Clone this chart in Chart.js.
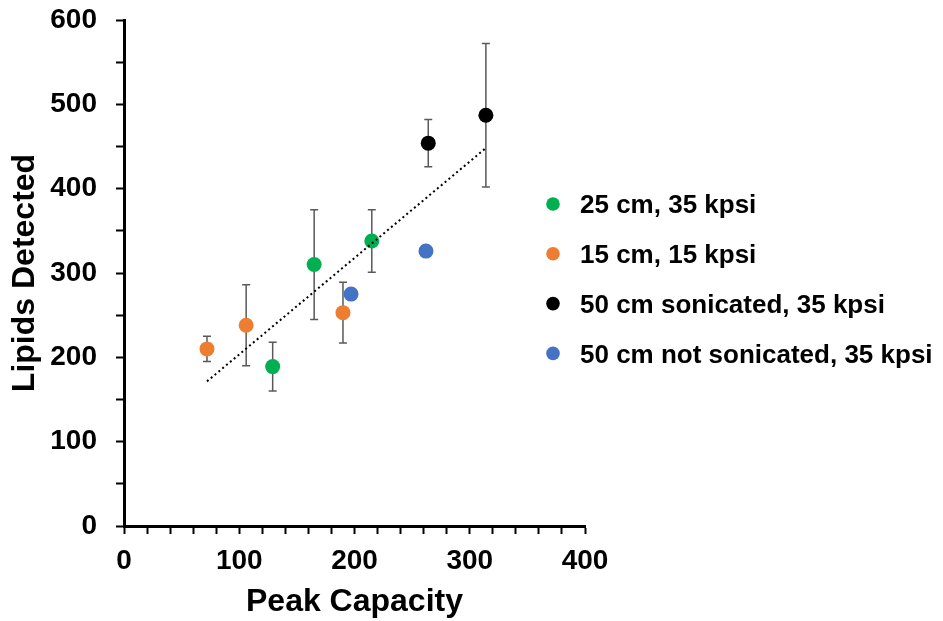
<!DOCTYPE html>
<html>
<head>
<meta charset="utf-8">
<script src="https://cdn.jsdelivr.net/npm/chart.js@4.4.0/dist/chart.umd.min.js"></script>
<style>
    html, body { margin: 0; padding: 0; background: #fff; }
    #wrap { width: 943px; height: 621px; }
</style>
</head>
<body>
<div id="wrap"><canvas id="myChart"></canvas></div>
<script>
// series, in legend order
const seriesLabels = ['25 cm, 35 kpsi', '15 cm, 15 kpsi', '50 cm sonicated, 35 kpsi', '50 cm not sonicated, 35 kpsi'];
const seriesColors = ['#00B050', '#ED7D31', '#000000', '#4472C4'];
const peakCapacity = [[129, 165, 215], [72, 106, 190], [264, 314], [197, 262]];
const lipidsDetected = [[189, 310, 338], [210, 238, 253], [454, 487], [275, 326]];
const errorSize = [[29, 65, 37], [15, 48, 36], [28, 85], [0, 0]];

const xTicks = [0, 100, 200, 300, 400];
const yTicks = [0, 100, 200, 300, 400, 500, 600];

const fontFamily = "'Liberation Sans', Arial, sans-serif";
Chart.defaults.font.family = fontFamily;
Chart.defaults.color = '#000';

// linear trend over every point
function trendLine() {
    let xs = [], ys = [];
    peakCapacity.forEach((arr, i) => arr.forEach((x, j) => { xs.push(x); ys.push(lipidsDetected[i][j]); }));
    const n = xs.length;
    const mx = xs.reduce((a, b) => a + b, 0) / n;
    const my = ys.reduce((a, b) => a + b, 0) / n;
    let sxy = 0, sxx = 0;
    xs.forEach((x, k) => { sxy += (x - mx) * (ys[k] - my); sxx += (x - mx) * (x - mx); });
    const slope = sxy / sxx;
    const icpt = my - slope * mx;
    const x0 = Math.min(...xs), x1 = Math.max(...xs);
    return [{ x: x0, y: icpt + slope * x0 }, { x: x1, y: icpt + slope * x1 }];
}

const datasets = seriesLabels.map((label, i) => ({
    type: 'scatter',
    label: label,
    data: peakCapacity[i].map((x, j) => ({ x: x, y: lipidsDetected[i][j] })),
    errors: errorSize[i],
    backgroundColor: seriesColors[i],
    borderColor: seriesColors[i],
    pointRadius: 7.5,
    pointBorderWidth: 0,
    pointHoverRadius: 7.5,
}));

datasets.push({
    type: 'line',
    label: 'trend',
    data: trendLine(),
    borderColor: '#000',
    borderWidth: 2,
    borderDash: [2, 3],
    pointRadius: 0,
    fill: false,
    order: -1,
});

const errorBars = {
    id: 'errorBars',
    beforeDatasetsDraw(chart) {
        const ctx = chart.ctx;
        const xs = chart.scales.x, ys = chart.scales.y;
        ctx.save();
        ctx.strokeStyle = '#595959';
        ctx.lineWidth = 1.5;
        chart.data.datasets.forEach(ds => {
            if (!ds.errors) return;
            ds.data.forEach((p, j) => {
                const e = ds.errors[j];
                if (!e) return;
                const px = xs.getPixelForValue(p.x);
                const top = ys.getPixelForValue(p.y + e);
                const bot = ys.getPixelForValue(p.y - e);
                ctx.beginPath();
                ctx.moveTo(px, top); ctx.lineTo(px, bot);
                ctx.moveTo(px - 4, top); ctx.lineTo(px + 4, top);
                ctx.moveTo(px - 4, bot); ctx.lineTo(px + 4, bot);
                ctx.stroke();
            });
        });
        ctx.restore();
    }
};

const sideLegend = {
    id: 'sideLegend',
    afterDraw(chart) {
        const ctx = chart.ctx;
        ctx.save();
        ctx.font = 'bold 26px ' + fontFamily;
        ctx.textBaseline = 'alphabetic';
        seriesLabels.forEach((label, i) => {
            const y = 204 + i * 49.8;
            ctx.fillStyle = seriesColors[i];
            ctx.beginPath();
            ctx.arc(553, y, 6.8, 0, Math.PI * 2);
            ctx.fill();
            ctx.fillStyle = '#000';
            ctx.fillText(label, 580, y + 9.3);
        });
        ctx.restore();
    }
};

const tickFont = { size: 28, weight: 'bold' };
const titleFont = { size: 32, weight: 'bold' };

new Chart(document.getElementById('myChart'), {
    data: { datasets: datasets },
    plugins: [errorBars, sideLegend],
    options: {
        responsive: true,
        maintainAspectRatio: false,
        animation: false,
        layout: { padding: { top: 20, right: 358, bottom: 0, left: 0 } },
        plugins: {
            legend: { display: false },
            tooltip: { enabled: false },
        },
        scales: {
            x: {
                type: 'linear',
                min: xTicks[0],
                max: xTicks[xTicks.length - 1],
                border: { color: '#000', width: 3 },
                grid: { drawOnChartArea: false, color: '#000', tickLength: 8, tickWidth: 2 },
                ticks: {
                    stepSize: 20,
                    autoSkip: false,
                    maxRotation: 0,
                    padding: 10,
                    font: tickFont,
                    callback: v => xTicks.includes(v) ? v : '',
                },
                title: { display: true, text: 'Peak Capacity', font: titleFont, padding: { top: 0, bottom: 0 } },
                afterFit: s => { s.height = 95; },
            },
            y: {
                type: 'linear',
                min: yTicks[0],
                max: yTicks[yTicks.length - 1],
                border: { color: '#000', width: 3 },
                grid: { drawOnChartArea: false, color: '#000', tickLength: 8, tickWidth: 2 },
                ticks: {
                    stepSize: 50,
                    autoSkip: false,
                    padding: 19,
                    font: tickFont,
                    callback: v => yTicks.includes(v) ? v : '',
                },
                title: { display: true, text: 'Lipids Detected', font: titleFont, padding: { top: 6, bottom: 0 } },
                afterFit: s => { s.width = 124; s.paddingTop = 0; s.paddingBottom = 0; },
            }
        }
    }
});
</script>
</body>
</html>
